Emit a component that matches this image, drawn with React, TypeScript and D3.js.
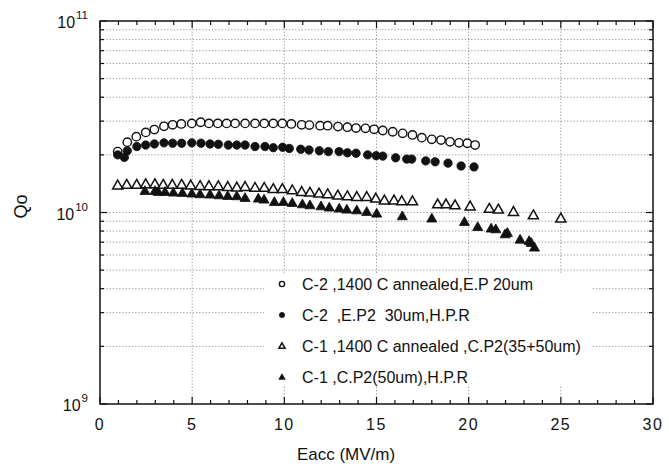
import React from "react";
import * as d3 from "d3";

const W = 669;
const H = 464;

// C-2, 1400 C annealed, E.P 20um (open circles)
const c2AnnealedE = [0.96, 1.48, 1.97, 2.48, 2.95, 3.47, 3.94, 4.41, 4.98, 5.46, 5.91, 6.39, 6.87, 7.33, 7.87, 8.41, 8.91, 9.4, 9.89, 10.38, 10.94, 11.36, 11.94, 12.35, 12.91, 13.42, 13.89, 14.4, 14.87, 15.34, 15.88, 16.42, 16.95, 17.46, 18.0, 18.5, 18.99, 19.48, 19.93, 20.35];
const c2AnnealedQ = [2.08, 2.33, 2.49, 2.62, 2.71, 2.82, 2.87, 2.9, 2.92, 2.96, 2.92, 2.92, 2.92, 2.92, 2.92, 2.92, 2.92, 2.92, 2.92, 2.9, 2.87, 2.86, 2.84, 2.84, 2.81, 2.79, 2.76, 2.75, 2.72, 2.68, 2.64, 2.59, 2.54, 2.46, 2.41, 2.39, 2.34, 2.31, 2.3, 2.25];

// C-2, E.P2 30um, H.P.R (filled circles)
const c2HprE = [0.96, 1.32, 1.48, 2.0, 2.48, 2.95, 3.47, 3.94, 4.43, 4.98, 5.48, 5.97, 6.42, 6.96, 7.42, 7.87, 8.41, 8.95, 9.4, 9.91, 10.27, 10.89, 11.34, 11.9, 12.39, 12.97, 13.42, 13.89, 14.52, 14.98, 15.34, 16.04, 16.64, 16.91, 17.67, 18.18, 18.88, 19.59, 20.29];
const c2HprQ = [2.0, 1.94, 2.1, 2.21, 2.25, 2.28, 2.31, 2.3, 2.3, 2.31, 2.3, 2.28, 2.27, 2.25, 2.25, 2.25, 2.21, 2.21, 2.18, 2.19, 2.16, 2.14, 2.12, 2.1, 2.08, 2.08, 2.05, 2.04, 2.0, 1.98, 1.97, 1.93, 1.9, 1.9, 1.86, 1.84, 1.81, 1.75, 1.73];

// C-1, 1400 C annealed, C.P2(35+50um) (open triangles)
const c1AnnealedE = [0.96, 1.45, 1.99, 2.48, 2.98, 3.43, 3.92, 4.43, 4.92, 5.43, 5.91, 6.42, 6.93, 7.42, 7.87, 8.41, 8.91, 9.4, 9.89, 10.43, 10.94, 11.39, 11.88, 12.35, 12.9, 13.42, 13.93, 14.47, 14.96, 15.43, 15.95, 16.37, 16.95, 18.32, 18.77, 19.26, 20.08, 21.12, 21.61, 22.43, 23.51, 25.0];
const c1AnnealedQ = [1.39, 1.4, 1.4, 1.41, 1.41, 1.4, 1.4, 1.4, 1.39, 1.38, 1.377, 1.377, 1.365, 1.355, 1.365, 1.35, 1.35, 1.33, 1.33, 1.31, 1.285, 1.275, 1.26, 1.25, 1.23, 1.22, 1.21, 1.21, 1.186, 1.16, 1.16, 1.15, 1.148, 1.107, 1.107, 1.094, 1.08, 1.05, 1.04, 1.01, 0.97, 0.933];

// C-1, C.P2(50um), H.P.R (filled triangles)
const c1HprE = [2.44, 2.98, 3.16, 3.53, 3.98, 4.47, 4.98, 5.43, 5.97, 6.46, 6.93, 7.42, 7.87, 8.59, 8.9, 9.46, 9.95, 10.43, 10.98, 11.39, 11.99, 12.44, 12.98, 13.39, 13.93, 14.47, 15.01, 16.4, 18.0, 19.77, 20.49, 21.22, 21.47, 21.98, 22.1, 22.79, 23.28, 23.39, 23.57];
const c1HprQ = [1.3, 1.3, 1.285, 1.285, 1.275, 1.27, 1.26, 1.25, 1.245, 1.234, 1.224, 1.22, 1.195, 1.186, 1.172, 1.139, 1.139, 1.125, 1.107, 1.094, 1.081, 1.065, 1.052, 1.039, 1.03, 1.01, 0.99, 0.959, 0.933, 0.895, 0.843, 0.827, 0.82, 0.772, 0.785, 0.724, 0.712, 0.696, 0.658];

const legendLabels = [
  "C-2 ,1400 C annealed,E.P 20um",
  "C-2  ,E.P2  30um,H.P.R",
  "C-1 ,1400 C annealed ,C.P2(35+50um)",
  "C-1 ,C.P2(50um),H.P.R",
];
const xTickLabels = [0, 5, 10, 15, 20, 25, 30];
const yDecades = [9, 10, 11];

const FONT = "'Liberation Sans', Arial, sans-serif";

type Shape = "circle" | "triangle";

function Marker({ cx, cy, shape, filled, size }: { cx: number; cy: number; shape: Shape; filled: boolean; size: number }) {
  const fill = filled ? "#111" : "#fff";
  if (shape === "circle") {
    return <circle cx={cx} cy={cy} r={size} fill={fill} stroke="#111" strokeWidth={filled ? 0.8 : 1.4} />;
  }
  const s = size * 1.2;
  const p = d3.path();
  p.moveTo(cx, cy - s);
  p.lineTo(cx + s, cy + s * 0.75);
  p.lineTo(cx - s, cy + s * 0.75);
  p.closePath();
  return <path d={p.toString()} fill={fill} stroke="#111" strokeWidth={filled ? 0.8 : 1.5} strokeLinejoin="miter" />;
}

export default function App() {
  const x = d3.scaleLinear().domain([0, 30]).range([100, 653]);
  const y = d3.scaleLog().domain([1e9, 1e11]).range([404, 21]);
  const [x0, x1] = x.range();
  const [yb, yt] = y.range();

  const minorY: number[] = [];
  for (const dec of [1e9, 1e10]) for (let k = 2; k <= 9; k++) minorY.push(k * dec);
  const minorX = d3.range(0, 31, 1).filter((v) => v % 5 !== 0);
  const majorX = d3.range(0, 31, 5);

  const series = [
    { E: c2AnnealedE, Q: c2AnnealedQ, shape: "circle" as Shape, filled: false },
    { E: c2HprE, Q: c2HprQ, shape: "circle" as Shape, filled: true },
    { E: c1AnnealedE, Q: c1AnnealedQ, shape: "triangle" as Shape, filled: false },
    { E: c1HprE, Q: c1HprQ, shape: "triangle" as Shape, filled: true },
  ];

  const legendX = 282;
  const legendY0 = 284;
  const legendDy = 31;

  return (
    <svg width={W} height={H} style={{ position: "absolute", left: 0, top: 0, background: "#fff" }} fontFamily={FONT}>
      <rect x={0} y={0} width={W} height={H} fill="#fff" />
      {/* grid */}
      <g stroke="#777" strokeWidth={0.8} strokeDasharray="1.2,2">
        {[...minorY, 1e10].map((v) => (
          <line key={"gy" + v} x1={x0} x2={x1} y1={y(v)} y2={y(v)} />
        ))}
        {majorX.slice(1, -1).map((v) => (
          <line key={"gx" + v} x1={x(v)} x2={x(v)} y1={yb} y2={yt} />
        ))}
      </g>
      {/* legend background */}
      <rect x={264} y={273} width={328} height={112} fill="#fff" />
      {/* data */}
      {series.map((s, i) => (
        <g key={"s" + i}>
          {s.E.map((e, j) => (
            <Marker key={j} cx={x(e)} cy={y(s.Q[j] * 1e10)} shape={s.shape} filled={s.filled} size={4.2} />
          ))}
        </g>
      ))}
      {/* legend */}
      {series.map((s, i) => (
        <g key={"l" + i}>
          <Marker cx={legendX} cy={legendY0 + i * legendDy} shape={s.shape} filled={s.filled} size={2.6} />
          <text x={302} y={legendY0 + i * legendDy + 6} fontSize={16} fill="#111" style={{ whiteSpace: "pre" }}>
            {legendLabels[i]}
          </text>
        </g>
      ))}
      {/* frame */}
      <rect x={x0} y={yt} width={x1 - x0} height={yb - yt} fill="none" stroke="#111" strokeWidth={1.5} />
      {/* ticks */}
      <g stroke="#111" strokeWidth={1.2}>
        {minorX.map((v) => (
          <g key={"mx" + v}>
            <line x1={x(v)} x2={x(v)} y1={yb} y2={yb - 4} />
            <line x1={x(v)} x2={x(v)} y1={yt} y2={yt + 4} />
          </g>
        ))}
        {majorX.map((v) => (
          <g key={"Mx" + v}>
            <line x1={x(v)} x2={x(v)} y1={yb} y2={yb - 7} />
            <line x1={x(v)} x2={x(v)} y1={yt} y2={yt + 7} />
          </g>
        ))}
        {minorY.map((v) => (
          <g key={"my" + v}>
            <line x1={x0} x2={x0 + 4} y1={y(v)} y2={y(v)} />
            <line x1={x1} x2={x1 - 4} y1={y(v)} y2={y(v)} />
          </g>
        ))}
        {yDecades.map((d) => (
          <g key={"My" + d}>
            <line x1={x0} x2={x0 + 7} y1={y(10 ** d)} y2={y(10 ** d)} />
            <line x1={x1} x2={x1 - 7} y1={y(10 ** d)} y2={y(10 ** d)} />
          </g>
        ))}
      </g>
      {/* x tick labels */}
      {xTickLabels.map((v) => (
        <text key={"xl" + v} x={x(v)} y={430} fontSize={16} textAnchor="middle" fill="#111" letterSpacing={1.5}>
          {v}
        </text>
      ))}
      {/* y tick labels */}
      {yDecades.map((d) => (
        <text key={"yl" + d} x={88} y={y(10 ** d) + 7} fontSize={16} textAnchor="end" fill="#111">
          10
          <tspan fontSize={11.5} dy={-9} dx={1}>
            {d}
          </tspan>
        </text>
      ))}
      {/* axis titles */}
      <text x={346} y={460} fontSize={17} textAnchor="middle" fill="#111">
        Eacc (MV/m)
      </text>
      <text transform={`translate(27,${y(1e10) - 6}) rotate(-90)`} fontSize={18} textAnchor="middle" fill="#111">
        Qo
      </text>
    </svg>
  );
}
